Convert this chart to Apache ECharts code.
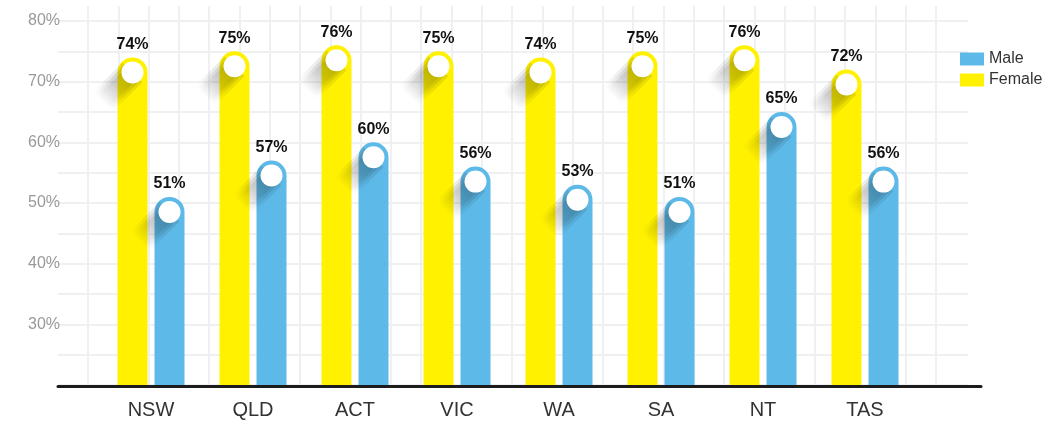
<!DOCTYPE html>
<html>
<head>
<meta charset="utf-8">
<script src="https://cdn.jsdelivr.net/npm/echarts@6/dist/echarts.min.js"></script>
<style>
  html, body { margin: 0; padding: 0; background: #fff; }
  #chart { width: 1061px; height: 421px; }
</style>
</head>
<body>
<div id="chart"></div>
<script>
// Share of people (%) by state / territory
const categories = ['NSW', 'QLD', 'ACT', 'VIC', 'WA', 'SA', 'NT', 'TAS'];
const femaleValues = [74, 75, 76, 75, 74, 75, 76, 72];
const maleValues = [51, 57, 60, 56, 53, 51, 65, 56];
const yTickLabels = [30, 40, 50, 60, 70, 80];

const YELLOW = '#FFF100';
const BLUE = '#5DB9E7';
const GRID_LINE = '#eff0f2';
const BAR_W = 30;       // bar width in px
const BAR_GAP = 7;      // space between the two bars of a state
const DOT_R = 11;       // white dot in the rounded cap
const SHADOW_LEN = 42;  // length of the long shadow cast by the dot
const Y_MIN = 20, Y_MAX = 80;

// one band of the long shadow, running down-left at 45° from the dot
function shadowBand(cx, cy, halfWidth, alpha) {
  const k = halfWidth / Math.SQRT2;
  const s = SHADOW_LEN / Math.SQRT2;
  const p1 = [cx - k, cy - k];
  const p2 = [cx + k, cy + k];
  return {
    type: 'polygon',
    shape: { points: [p1, p2, [p2[0] - s, p2[1] + s], [p1[0] - s, p1[1] + s]] },
    style: {
      fill: {
        type: 'linear', global: true,
        x: cx, y: cy, x2: cx - s, y2: cy + s,
        colorStops: [
          { offset: 0, color: 'rgba(0,0,0,' + alpha + ')' },
          { offset: 0.5, color: 'rgba(0,0,0,' + (alpha * 0.65) + ')' },
          { offset: 1, color: 'rgba(0,0,0,0)' }
        ]
      }
    }
  };
}

// Pill-shaped bar with a white dot and a soft long shadow
function barRenderer(color, side) {
  return function (params, api) {
    const cat = api.value(0);
    const val = api.value(1);
    const top = api.coord([cat, val]);
    const base = api.coord([cat, Y_MIN]);
    const r = BAR_W / 2;
    const cx = top[0] + side * (BAR_W + BAR_GAP) / 2;
    const cy = top[1] + r;
    return {
      type: 'group',
      children: [
        {
          type: 'rect',
          shape: { x: cx - r, y: top[1], width: BAR_W, height: base[1] - top[1], r: [r, r, 0, 0] },
          style: { fill: color }
        },
        shadowBand(cx, cy, DOT_R + 3, 0.1),
        shadowBand(cx, cy, DOT_R, 0.12),
        shadowBand(cx, cy, DOT_R - 3, 0.1),
        {
          type: 'circle',
          shape: { cx: cx, cy: cy, r: DOT_R },
          style: { fill: '#ffffff' }
        },
        {
          type: 'text',
          style: {
            text: val + '%', x: cx, y: top[1] - 13,
            align: 'center', verticalAlign: 'middle',
            fontSize: 16, fontWeight: 'bold', fontFamily: 'Liberation Sans',
            fill: '#111'
          }
        }
      ]
    };
  };
}

const chart = echarts.init(document.getElementById('chart'));
chart.setOption({
  animation: false,
  backgroundColor: '#ffffff',
  grid: [
    { left: 88, top: 6, width: 848, height: 379 },   // vertical background lines
    { left: 58, top: 21, width: 910, height: 364 },  // horizontal lines + y labels
    { left: 58, top: 21, width: 923, height: 365 },  // baseline
    { left: 100, top: 21, width: 816, height: 364 }  // bars
  ],
  xAxis: [
    {
      gridIndex: 0, type: 'value', min: 0, max: 28, interval: 1,
      axisLine: { show: false }, axisTick: { show: false }, axisLabel: { show: false },
      splitLine: { show: true, lineStyle: { color: GRID_LINE, width: 2 } }
    },
    { gridIndex: 1, type: 'value', min: 0, max: 1, show: false },
    {
      gridIndex: 2, type: 'value', min: 0, max: 1, z: 5,
      axisLine: { show: true, lineStyle: { color: '#1c1c1c', width: 3 } },
      axisTick: { show: false }, axisLabel: { show: false }, splitLine: { show: false }
    },
    {
      gridIndex: 3, type: 'category', data: categories,
      axisLine: { show: false }, axisTick: { show: false },
      axisLabel: { margin: 15, fontSize: 20, color: '#333', fontFamily: 'Liberation Sans' }
    }
  ],
  yAxis: [
    { gridIndex: 0, type: 'value', show: false },
    {
      gridIndex: 1, type: 'value', min: Y_MIN, max: Y_MAX, interval: 5,
      axisLine: { show: false }, axisTick: { show: false },
      axisLabel: {
        margin: -2, fontSize: 16, color: '#999', fontFamily: 'Liberation Sans',
        formatter: v => (yTickLabels.indexOf(v) >= 0 ? v + '%' : '')
      },
      splitLine: { show: true, lineStyle: { color: GRID_LINE, width: 2 } }
    },
    { gridIndex: 2, type: 'value', show: false },
    { gridIndex: 3, type: 'value', min: Y_MIN, max: Y_MAX, show: false }
  ],
  legend: {
    data: ['Male', 'Female'],
    orient: 'vertical', left: 955, top: 46,
    icon: 'rect', itemWidth: 24, itemHeight: 13, itemGap: 5,
    textStyle: { fontSize: 16, color: '#333', fontFamily: 'Liberation Sans' }
  },
  series: [
    {
      name: 'Female', type: 'custom', xAxisIndex: 3, yAxisIndex: 3,
      renderItem: barRenderer(YELLOW, -1),
      itemStyle: { color: YELLOW },
      encode: { x: 0, y: 1 },
      data: femaleValues.map((v, i) => [i, v])
    },
    {
      name: 'Male', type: 'custom', xAxisIndex: 3, yAxisIndex: 3,
      renderItem: barRenderer(BLUE, 1),
      itemStyle: { color: BLUE },
      encode: { x: 0, y: 1 },
      data: maleValues.map((v, i) => [i, v])
    }
  ]
});
</script>
</body>
</html>
